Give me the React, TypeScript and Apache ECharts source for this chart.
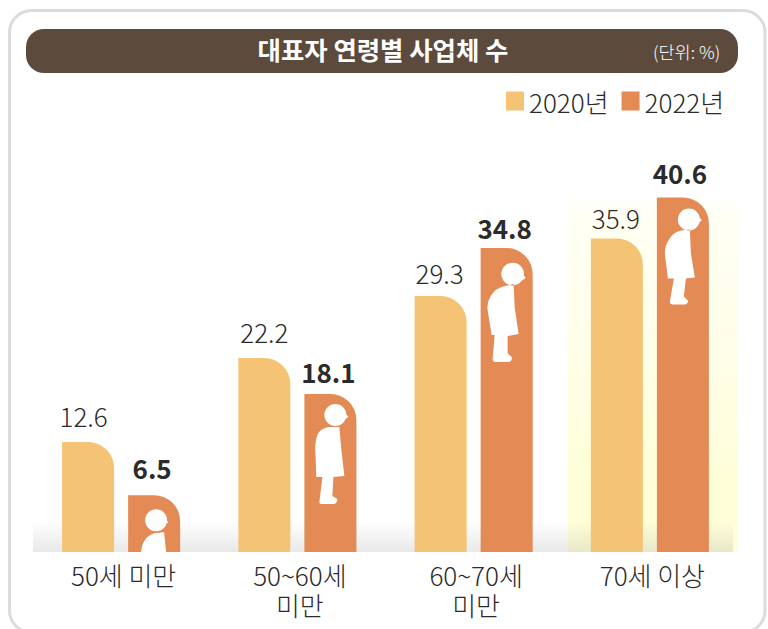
import React, { useEffect, useRef } from "react";
import * as echarts from "echarts";

const categories = ["50세 미만", "50~60세\n미만", "60~70세\n미만", "70세 이상"];
const values2020 = [12.6, 22.2, 29.3, 35.9];
const values2022 = [6.5, 18.1, 34.8, 40.6];
const seriesNames = ["2020년", "2022년"];
const titleText = "대표자 연령별 사업체 수";
const unitText = "(단위: %)";

const FONT = '"Noto Sans CJK KR", "Noto Sans", sans-serif';
const C2020 = "#f5c374";
const C2022 = "#e38a55";
const INK = "#2b2b2b";

// hand-placed value labels in the reference
const labelShift2020 = [[-4.5, -5], [0, -6], [-1, -3], [-1, 0]];
const labelShift2022 = [[-2, -6], [-2, 0], [-2, 1], [-3, -3]];

const head = (cx: number, cy: number, r: number, nx: number, ny: number) =>
  `M${cx - r} ${cy}A${r} ${r} 0 1 1 ${cx + r} ${cy}A${r} ${r} 0 1 1 ${cx - r} ${cy}Z` +
  `M${cx + r - 4} ${ny - 8}L${nx} ${ny}L${cx + r - 4} ${ny + 4}Z`;

const figurePaths = [
  head(28, 25, 11, 40, 27) + "M13 57Q14 42 26 38L36 37L38 57Z",
  head(31, 21, 11, 44, 23) +
    "M24 33Q15 35 13 41Q10 50 11 58L12 83L18 83L15 108Q15 110 18 110L30 110Q33 109 33 105L28 102L29 83L40 82L37 56L35 33Z",
  head(32, 26, 11.3, 45, 30) +
    "M24 38Q15 40 10 48Q6 55 7 62L11 87L14 87L12 111Q12 114 15 114L28 114Q32 113 31 109L27 105L27 88L38 86L34 59L33 36Z",
  head(32, 22, 11, 45, 23) +
    "M24 33Q15 35 11 44Q8 49 8 56L11 81L17 81L13 104Q13 107 16 107L28 107Q32 106 31 103L27 99L29 81L38 80L34 56L33 32Z",
];
figurePaths.forEach((d, i) => {
  echarts.graphic.registerShape("figure" + i, echarts.graphic.extendPath(d, {}) as any);
});

const vGrad = (stops: [number, string][]) => ({
  type: "linear",
  x: 0,
  y: 0,
  x2: 0,
  y2: 1,
  colorStops: stops.map(([offset, color]) => ({ offset, color })),
});

export default function App() {
  const ref = useRef<HTMLDivElement>(null);
  useEffect(() => {
    document.body.style.margin = "0";
    document.body.style.background = "#fff";
    const chart = echarts.init(ref.current!, null, { renderer: "svg" });
    const barLabel = (bold: boolean) => ({
      show: true,
      position: "top" as const,
      distance: bold ? 9 : 8,
      fontFamily: FONT,
      fontSize: 26,
      fontWeight: bold ? 700 : 300,
      color: INK,
    });
    chart.setOption({
      animation: false,
      backgroundColor: "#ffffff",
      textStyle: { fontFamily: FONT },
      title: [
        {
          text: titleText,
          left: 378,
          top: 26,
          textAlign: "center",
          textStyle: { fontFamily: FONT, fontSize: 25.4, fontWeight: 700, color: "#ffffff", lineHeight: 36 },
        },
        {
          text: unitText,
          left: 648,
          top: 35,
          textStyle: { fontFamily: FONT, fontSize: 17.5, fontWeight: 300, color: "#ffffff", lineHeight: 22 },
        },
      ],
      legend: {
        data: seriesNames,
        left: 501,
        top: 83,
        icon: "rect",
        itemWidth: 18,
        itemHeight: 19,
        itemGap: 13,
        textStyle: { fontFamily: FONT, fontSize: 26, fontWeight: 300, color: INK },
      },
      grid: { left: 33, right: 30, top: 159, height: 393 },
      xAxis: {
        type: "category",
        data: categories,
        axisLine: { show: false },
        axisTick: { show: false },
        axisLabel: {
          interval: 0,
          margin: 7,
          fontFamily: FONT,
          fontSize: 26,
          fontWeight: 300,
          lineHeight: 30,
          color: INK,
          verticalAlign: "top",
          padding: [0, 0, 0, 5],
        },
      },
      yAxis: { type: "value", min: 0, max: 45, show: false },
      graphic: [
        {
          type: "rect",
          z: -10,
          shape: { x: 9.5, y: 10.5, width: 755.5, height: 622, r: 22 },
          style: { fill: "#ffffff", stroke: "#dcdcdc", lineWidth: 3 },
        },
        {
          type: "rect",
          z: -9,
          shape: { x: 26, y: 29, width: 712, height: 44, r: 18 },
          style: { fill: "#5c4a3d" },
        },
        {
          type: "rect",
          z: -8,
          shape: { x: 33, y: 521, width: 535, height: 31 },
          style: { fill: vGrad([[0, "rgba(233,233,233,0)"], [1, "#e9e9e9"]]) },
        },
        {
          type: "rect",
          z: -8,
          shape: { x: 568, y: 195, width: 170, height: 357 },
          style: {
            fill: vGrad([
              [0, "rgba(255,255,224,0)"],
              [0.15, "#fffff2"],
              [0.5, "#fffee6"],
              [0.8, "#fffed8"],
              [1, "#fffed8"],
            ]),
          },
        },
        {
          type: "rect",
          z: -7,
          shape: { x: 568, y: 521, width: 165, height: 31 },
          style: { fill: vGrad([[0, "rgba(232,232,200,0)"], [1, "#e8e8ca"]]) },
        },
      ],
      series: [
        {
          name: seriesNames[0],
          type: "bar",
          data: values2020.map((value, i) => ({ value, label: { offset: labelShift2020[i] } })),
          barWidth: 52,
          barGap: "27%",
          itemStyle: { color: C2020, borderRadius: [0, 26, 0, 0] },
          label: barLabel(false),
        },
        {
          name: seriesNames[1],
          type: "bar",
          data: values2022.map((value, i) => ({ value, label: { offset: labelShift2022[i] } })),
          barWidth: 52,
          itemStyle: { color: C2022, borderRadius: [0, 26, 0, 0] },
          label: barLabel(true),
        },
        {
          type: "custom",
          name: "figures",
          silent: true,
          z: 5,
          clip: false,
          encode: { x: 0, y: 1 },
          data: values2022.map((v, i) => [categories[i], v]),
          renderItem: (params: any, api: any) => {
            const p = api.coord([api.value(0), api.value(1)]);
            return {
              type: "figure" + params.dataIndex,
              x: p[0] + 7,
              y: p[1],
              style: { fill: "#ffffff" },
            };
          },
        },
      ],
    });
    return () => chart.dispose();
  }, []);
  return <div ref={ref} style={{ position: "absolute", left: 0, top: 0, width: 768, height: 629 }} />;
}
